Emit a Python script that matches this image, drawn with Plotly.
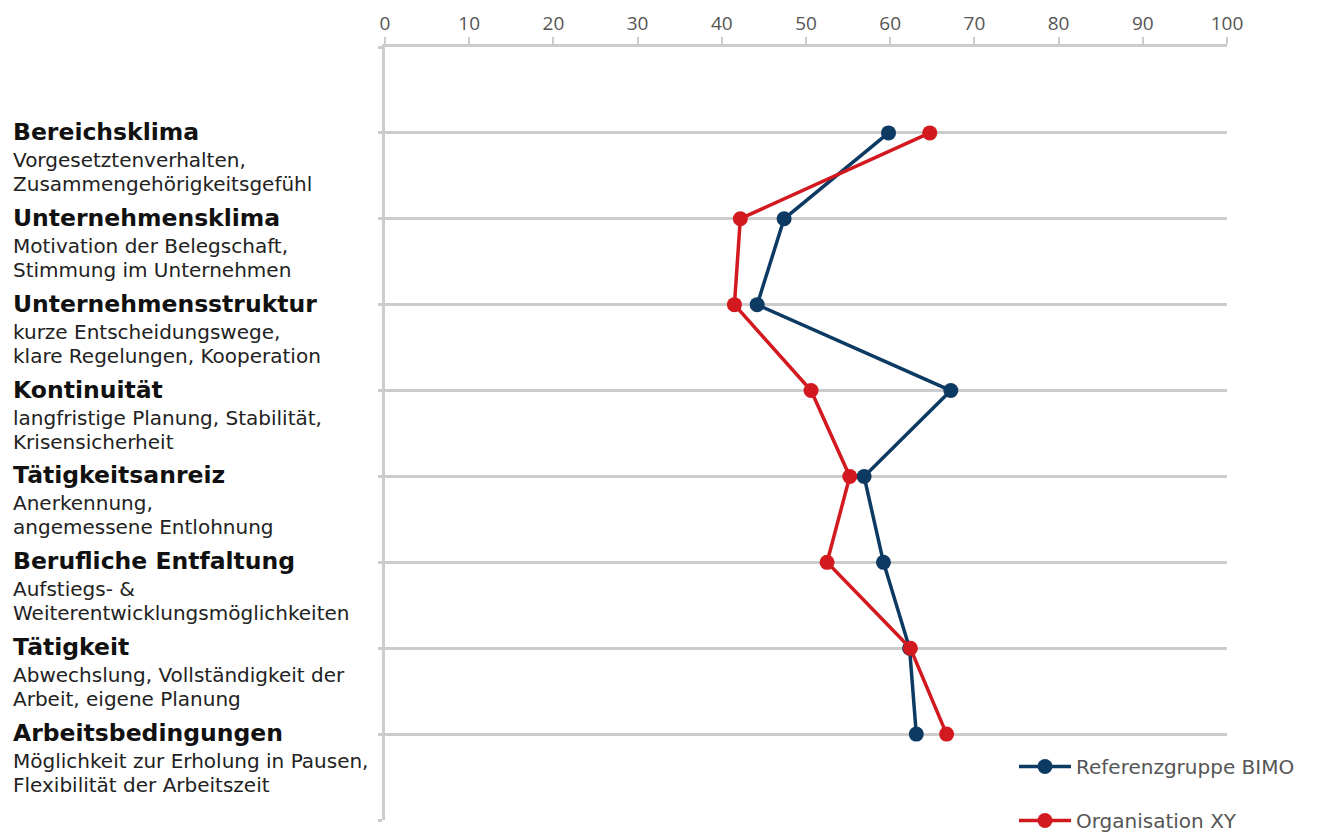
import plotly.graph_objects as go

titles = ["Bereichsklima", "Unternehmensklima", "Unternehmensstruktur", "Kontinuität",
          "Tätigkeitsanreiz", "Berufliche Entfaltung", "Tätigkeit", "Arbeitsbedingungen"]
subtitles = [
    ["Vorgesetztenverhalten,", "Zusammengehörigkeitsgefühl"],
    ["Motivation der Belegschaft,", "Stimmung im Unternehmen"],
    ["kurze Entscheidungswege,", "klare Regelungen, Kooperation"],
    ["langfristige Planung, Stabilität,", "Krisensicherheit"],
    ["Anerkennung,", "angemessene Entlohnung"],
    ["Aufstiegs- &", "Weiterentwicklungsmöglichkeiten"],
    ["Abwechslung, Vollständigkeit der", "Arbeit, eigene Planung"],
    ["Möglichkeit zur Erholung in Pausen,", "Flexibilität der Arbeitszeit"],
]
positions = list(range(len(titles)))
referenz_bimo = [59.8, 47.4, 44.2, 67.2, 56.9, 59.2, 62.3, 63.1]
organisation_xy = [64.7, 42.2, 41.5, 50.6, 55.2, 52.5, 62.4, 66.7]
x_ticks = list(range(0, 101, 10))

BLUE = "#0c3a63"
RED = "#d2191f"
GRID = "#cccccc"
FONT = "DejaVu Sans"
TICKFONT = "Open Sans"

fig = go.Figure()
fig.add_trace(go.Scatter(
    x=referenz_bimo, y=positions, mode="lines+markers", name="Referenzgruppe BIMO",
    line=dict(color=BLUE, width=3.5), marker=dict(color=BLUE, size=15),
    legendgroup="a", cliponaxis=False))
fig.add_trace(go.Scatter(
    x=organisation_xy, y=positions, mode="lines+markers", name="Organisation XY",
    line=dict(color=RED, width=3.5), marker=dict(color=RED, size=15),
    legendgroup="b", cliponaxis=False))

for i, (t, subs) in enumerate(zip(titles, subtitles)):
    fig.add_annotation(x=-374 / 842, xref="paper", y=i, yref="y", text="<b>" + t + "</b>",
                       showarrow=False, xanchor="left", yanchor="middle", yshift=1,
                       font=dict(family=FONT, size=23.5, color="#111111"))
    for k, s in enumerate(subs):
        fig.add_annotation(x=-374 / 842, xref="paper", y=i, yref="y", text=s,
                           showarrow=False, xanchor="left", yanchor="middle", yshift=-27 - 24 * k,
                           font=dict(family=FONT, size=20, color="#222222"))

fig.update_layout(
    width=1318, height=833,
    margin=dict(l=385, r=91, t=47, b=13, autoexpand=False),
    plot_bgcolor="white", paper_bgcolor="white",
    font=dict(family=FONT),
    xaxis=dict(side="top", range=[0, 100], tickvals=x_ticks, showgrid=False,
               showline=True, linecolor=GRID, linewidth=2.5,
               ticks="outside", ticklen=7, tickwidth=2, tickcolor=GRID,
               tickfont=dict(family=TICKFONT, size=19, color="#555555"), zeroline=False),
    yaxis=dict(range=[8, -1], tickvals=list(range(-1, 9)), showticklabels=False,
               showgrid=True, gridcolor=GRID, gridwidth=2.5,
               showline=True, linecolor=GRID, linewidth=2.5,
               ticks="outside", ticklen=4, tickwidth=2.5, tickcolor=GRID, zeroline=False),
    legend=dict(x=(1014 - 385) / 842, xanchor="left", y=(820 - 747) / 773, yanchor="top",
                bgcolor="white", borderwidth=0, tracegroupgap=25, itemwidth=52,
                font=dict(family=FONT, size=20, color="#555555")),
    showlegend=True,
)

fig.write_html("out.html")
